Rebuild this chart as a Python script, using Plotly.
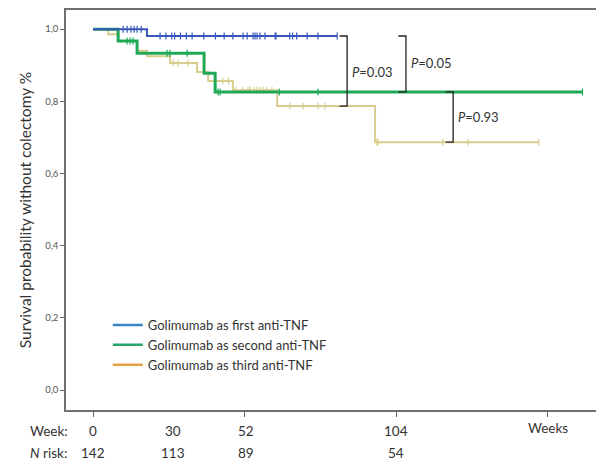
import plotly.graph_objects as go

# ---------------- data ----------------
# Kaplan-Meier steps (weeks, survival)
first_t = [0, 18.5, 83.8]
first_s = [1.0, 0.981, 0.981]
first_cens = [10.3, 11.7, 13.0, 14.1, 15.1, 16.5, 23, 25, 27, 28, 30, 32, 34, 38, 42, 45, 48,
              51.5, 52.9, 54.9, 55.6, 56.3, 57.3, 59, 62.5, 62.8, 67.5, 68.5, 69.9, 73.5, 77.2, 83.8]

second_t = [0, 8.6, 15.1, 38.1, 41.9, 168]
second_s = [1.0, 0.967, 0.933, 0.878, 0.826, 0.826]
second_cens = [11.7, 12.7, 13.7, 25.4, 26.4, 32.3, 42.9, 43.6, 63.9, 77.2, 168]

third_t = [0, 5.2, 8.6, 15.1, 18.5, 26.4, 35.7, 39.5, 48, 63.2, 96.8, 153]
third_s = [1.0, 0.986, 0.967, 0.94, 0.925, 0.906, 0.881, 0.856, 0.831, 0.787, 0.687, 0.687]
third_cens = [27.5, 29.2, 32.6, 44.5, 46.5, 49, 51.5, 53.2, 53.9, 55.3, 56.3, 57.3, 58.4, 59.7, 61.4,
              67.6, 72.1, 77.2, 79.6, 97.5, 97.8, 120, 128.7, 153]

series_names = ["Golimumab as first anti-TNF", "Golimumab as second anti-TNF", "Golimumab as third anti-TNF"]

# p-value brackets: x (weeks), top survival, bottom survival, label
bracket_x = [87.2, 107.4, 123.6]
bracket_top = [0.981, 0.981, 0.826]
bracket_bot = [0.787, 0.826, 0.687]
bracket_lbl = ["0.03", "0.05", "0.93"]
bracket_lbl_y = [0.88, 0.905, 0.757]

# at-risk table
week_pos = [0, 27.5, 52.5, 104]
week_lbl = ["0", "30", "52", "104"]
nrisk_lbl = ["142", "113", "89", "54"]

y_ticks = [0, 0.2, 0.4, 0.6, 0.8, 1.0]
y_tick_lbl = ["0,0", "0,2", "0,4", "0,6", "0,8", "1,0"]
x_ticks = [0, 52, 104, 156]

# ---------------- styles ----------------
curve_cols = ["#3656bd", "#1fa957", "#d9cd8e"]
curve_w = [2, 3, 2]
legend_cols = ["#3a86c6", "#26a56c", "#e3a145"]
FONT = "Lato, 'Open Sans', sans-serif"


def step_val(ts, ss, t):
    v = ss[0]
    for ti, si in zip(ts, ss):
        if ti <= t:
            v = si
    return v


fig = go.Figure()
curves = [(first_t, first_s, first_cens), (second_t, second_s, second_cens), (third_t, third_s, third_cens)]
for i in [2, 1, 0]:
    ts, ss, cs = curves[i]
    fig.add_trace(go.Scatter(x=ts, y=ss, mode="lines", line=dict(color=curve_cols[i], width=curve_w[i], shape="hv"),
                             showlegend=False, hoverinfo="skip"))
    fig.add_trace(go.Scatter(x=cs, y=[step_val(ts, ss, c) for c in cs], mode="markers",
                             marker=dict(symbol="line-ns", size=5, line=dict(color=curve_cols[i], width=1.2)),
                             showlegend=False, hoverinfo="skip"))

for i in range(3):
    fig.add_trace(go.Scatter(x=[None], y=[None], mode="lines", name=series_names[i],
                             line=dict(color=legend_cols[i], width=2.5)))

# brackets
for bx, bt, bb, lbl, ly in zip(bracket_x, bracket_top, bracket_bot, bracket_lbl, bracket_lbl_y):
    fig.add_trace(go.Scatter(x=[bx - 2.6, bx, bx, bx - 2.6], y=[bt, bt, bb, bb], mode="lines",
                             line=dict(color="#222222", width=1.3), showlegend=False, hoverinfo="skip"))
    fig.add_annotation(x=bx + 1, y=ly, xref="x", yref="y", text=f"<i>P</i>=" + lbl, showarrow=False,
                       xanchor="left", yanchor="middle", font=dict(size=13, color="#333333", family=FONT))

TF = dict(size=13.5, color="#333333", family=FONT)
# at-risk table
fig.add_annotation(x=-0.07, y=-0.052, xref="paper", yref="paper", text="Week:", showarrow=False,
                   xanchor="left", yanchor="middle", font=TF)
fig.add_annotation(x=-0.07, y=-0.107, xref="paper", yref="paper", text="<i>N</i> risk:", showarrow=False,
                   xanchor="left", yanchor="middle", font=TF)
for wp, wl, nl in zip(week_pos, week_lbl, nrisk_lbl):
    fig.add_annotation(x=wp, y=-0.052, xref="x", yref="paper", text=wl, showarrow=False,
                       xanchor="center", yanchor="middle", font=TF)
    fig.add_annotation(x=wp, y=-0.107, xref="x", yref="paper", text=nl, showarrow=False,
                       xanchor="center", yanchor="middle", font=TF)
fig.add_annotation(x=156, y=-0.045, xref="x", yref="paper", text="Weeks", showarrow=False,
                   xanchor="center", yanchor="middle", font=TF)

# page has an 8px body margin: figure is 596x454 so the plot area lands at 66..602 x 10..410
fig.update_layout(
    width=596, height=454,
    margin=dict(l=58, r=2, t=2, b=52, autoexpand=False),
    plot_bgcolor="white", paper_bgcolor="white",
    font=dict(family=FONT, color="#333333"),
    showlegend=True,
    legend=dict(x=0.078, y=0.25, xanchor="left", yanchor="top", bgcolor="rgba(0,0,0,0)",
                font=dict(size=13, color="#333333", family=FONT), tracegroupgap=0),
    xaxis=dict(range=[-9.3, 174.7], tickvals=x_ticks, showticklabels=False, ticks="outside", ticklen=5,
               tickcolor="#666666", showgrid=False, zeroline=False, showline=True, mirror=True,
               linecolor="#707070", linewidth=1.5, automargin=False),
    yaxis=dict(range=[-0.055, 1.053], tickvals=y_ticks, ticktext=y_tick_lbl, ticks="outside", ticklen=4,
               tickcolor="#666666", tickfont=dict(size=9.5, color="#555555", family=FONT),
               showgrid=False, zeroline=False, showline=True, mirror=True, linecolor="#707070", linewidth=1.5,
               automargin=False,
               title=dict(text="Survival probability without colectomy %", standoff=10,
                          font=dict(size=15.5, color="#333333", family=FONT))),
)

fig.write_html("out.html")
